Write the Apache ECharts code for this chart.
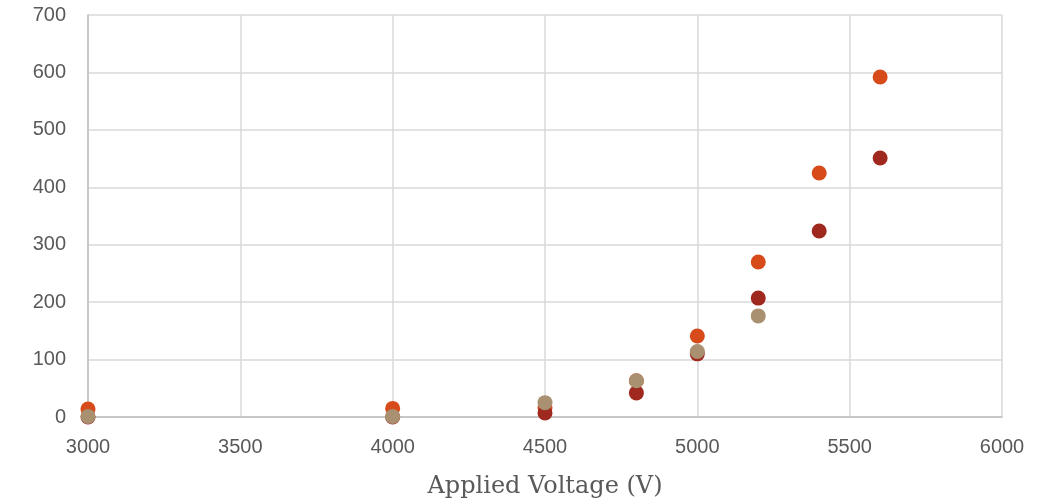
<!DOCTYPE html>
<html><head><meta charset="utf-8">
<script src="https://cdn.jsdelivr.net/npm/echarts@6/dist/echarts.min.js"></script>
<style>html,body{margin:0;padding:0;background:#fff}#c{width:1051px;height:502px}</style>
</head><body><div id="c"></div>
<script>
const xTicks = [3000, 3500, 4000, 4500, 5000, 5500, 6000];
const yTicks = [0, 100, 200, 300, 400, 500, 600, 700];
const voltages = [3000, 4000, 4500, 4800, 5000, 5200, 5400, 5600];
const seriesA = [14, 15, 16, 63, 141, 270, 425, 592];
const seriesB = [0, 0, 7, 42, 110, 207, 324, 451];
const tanV = [3000, 4000, 4500, 4800, 5000, 5200];
const seriesC = [1, 1, 25, 63, 114, 176];

const pairs = (xs, ys) => xs.map((x, i) => [x, ys[i]]);
const chart = echarts.init(document.getElementById('c'));
chart.setOption({
  animation: false,
  grid: {left: 88, right: 49, top: 15, bottom: 85, containLabel: false, outerBoundsMode: 'none'},
  xAxis: {
    type: 'value', min: xTicks[0], max: xTicks[xTicks.length - 1], interval: 500,
    name: 'Applied Voltage (V)', nameLocation: 'middle', nameGap: 58,
    nameTextStyle: {fontFamily: 'DejaVu Serif', fontSize: 24, color: '#595959'},
    axisLine: {show: true, lineStyle: {color: '#bfbfbf', width: 1.5}},
    axisTick: {show: false},
    axisLabel: {fontFamily: 'Liberation Sans', fontSize: 20, color: '#595959', margin: 20, formatter: v => String(v)},
    splitLine: {show: true, lineStyle: {color: '#d9d9d9', width: 1.5}}
  },
  yAxis: {
    type: 'value', min: yTicks[0], max: yTicks[yTicks.length - 1], interval: 100,
    axisLine: {show: true, lineStyle: {color: '#bfbfbf', width: 1.5}},
    axisTick: {show: false},
    axisLabel: {fontFamily: 'Liberation Sans', fontSize: 20, color: '#595959', margin: 22, formatter: v => String(v)},
    splitLine: {show: true, lineStyle: {color: '#d9d9d9', width: 1.5}}
  },
  series: [
    {type: 'scatter', symbolSize: 15, data: pairs(voltages, seriesA), itemStyle: {color: '#D64B19', opacity: 1}},
    {type: 'scatter', symbolSize: 15, data: pairs(voltages, seriesB), itemStyle: {color: '#A0291F', opacity: 1}},
    {type: 'scatter', symbolSize: 15, data: pairs(tanV, seriesC), itemStyle: {color: '#A89070', opacity: 1}}
  ]
});
</script></body></html>
